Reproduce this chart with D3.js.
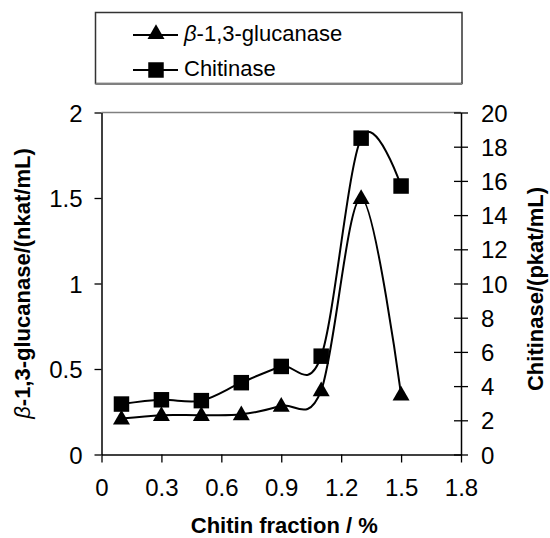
<!DOCTYPE html>
<html>
<head>
<meta charset="utf-8">
<script src="https://cdn.jsdelivr.net/npm/d3@7"></script>
<style>
  body { margin: 0; background: #fff; }
  svg { display: block; font-family: "Liberation Sans", Arial, sans-serif; }
</style>
</head>
<body>
<div id="chart"></div>
<script>
// data
var fraction = [0.1, 0.3, 0.5, 0.7, 0.9, 1.1, 1.3, 1.5];
var glucanase = [0.21, 0.23, 0.23, 0.235, 0.285, 0.375, 1.5, 0.35];   // nkat/mL, left axis
var chitinase = [2.95, 3.2, 3.15, 4.2, 5.15, 5.75, 18.5, 15.7];       // pkat/mL, right axis
var xTicks = [0, 0.3, 0.6, 0.9, 1.2, 1.5, 1.8];
var leftTicks = [0, 0.5, 1, 1.5, 2];
var rightTicks = [0, 2, 4, 6, 8, 10, 12, 14, 16, 18, 20];
var seriesNames = ["-1,3-glucanase", "Chitinase"];

var W = 550, H = 538;
var plotL = 101.5, plotR = 461, plotT = 112.5, plotB = 454.5;

var svg = d3.select("#chart").append("svg")
    .attr("width", W)
    .attr("height", H);

var x = d3.scaleLinear().domain([0, 1.8]).range([plotL, plotR]);
var yL = d3.scaleLinear().domain([0, 2]).range([plotB, plotT]);
var yR = d3.scaleLinear().domain([0, 20]).range([plotB, plotT]);

// gray top border of plot area
svg.append("line")
    .attr("x1", plotL).attr("x2", plotR)
    .attr("y1", plotT).attr("y2", plotT)
    .attr("stroke", "#808080").attr("stroke-width", 1.5);

// axes
var gx = svg.append("g")
    .attr("transform", "translate(0," + plotB + ")")
    .call(d3.axisBottom(x).tickValues(xTicks).tickFormat(function(d){ return String(d); })
        .tickSizeInner(8).tickSizeOuter(0).tickPadding(16));

var gl = svg.append("g")
    .attr("transform", "translate(" + plotL + ",0)")
    .call(d3.axisLeft(yL).tickValues(leftTicks).tickFormat(function(d){ return String(d); })
        .tickSizeInner(7).tickSizeOuter(0).tickPadding(12));

var gr = svg.append("g")
    .attr("transform", "translate(" + plotR + ",0)")
    .call(d3.axisRight(yR).tickValues(rightTicks).tickFormat(function(d){ return String(d); })
        .tickSizeInner(7).tickSizeOuter(0).tickPadding(13));
gr.selectAll(".tick line").attr("x1", -7);

[gx, gl, gr].forEach(function(g){
  g.select(".domain").attr("stroke", "#000").attr("stroke-width", 1.5);
  g.selectAll(".tick line").attr("stroke", "#000").attr("stroke-width", 1.3);
  g.selectAll(".tick text")
    .attr("fill", "#000")
    .style("font-size", "24px")
    .style("font-family", "'Liberation Sans', Arial, sans-serif");
});
gl.selectAll(".tick text").attr("dy", "0.36em");
gr.selectAll(".tick text").attr("dy", "0.36em");

// curves
var lineL = d3.line()
    .x(function(d, i){ return x(fraction[i]); })
    .y(function(d){ return yL(d); })
    .curve(d3.curveCardinal.tension(0));
var lineR = d3.line()
    .x(function(d, i){ return x(fraction[i]); })
    .y(function(d){ return yR(d); })
    .curve(d3.curveCardinal.tension(0));

svg.append("path")
    .attr("d", lineL(glucanase))
    .attr("fill", "none").attr("stroke", "#000").attr("stroke-width", 2);
svg.append("path")
    .attr("d", lineR(chitinase))
    .attr("fill", "none").attr("stroke", "#000").attr("stroke-width", 2);

var tri = d3.symbol().type(d3.symbolTriangle).size(125);
var sq = d3.symbol().type(d3.symbolSquare).size(240);

svg.selectAll(".tri")
    .data(glucanase)
    .enter().append("path")
    .attr("class", "tri")
    .attr("d", tri)
    .attr("transform", function(d, i){ return "translate(" + x(fraction[i]) + "," + (yL(d) + 1) + ")"; })
    .attr("fill", "#000");

svg.selectAll(".sq")
    .data(chitinase)
    .enter().append("path")
    .attr("class", "sq")
    .attr("d", sq)
    .attr("transform", function(d, i){ return "translate(" + x(fraction[i]) + "," + yR(d) + ")"; })
    .attr("fill", "#000");

// axis titles
var lt = svg.append("text")
    .attr("transform", "translate(24," + ((plotT + plotB) / 2) + ") rotate(-90)")
    .attr("text-anchor", "middle")
    .attr("dominant-baseline", "middle")
    .style("font-size", "22px")
    .style("font-weight", "bold");
lt.append("tspan").style("font-style", "italic").style("font-weight", "normal").text("\u03b2");
lt.append("tspan").text("-1,3-glucanase/(nkat/mL)");

svg.append("text")
    .attr("transform", "translate(537," + 289 + ") rotate(-90)")
    .attr("text-anchor", "middle")
    .attr("dominant-baseline", "middle")
    .style("font-size", "22px")
    .style("font-weight", "bold")
    .text("Chitinase/(pkat/mL)");

svg.append("text")
    .attr("x", (plotL + plotR) / 2 + 3)
    .attr("y", 533)
    .attr("text-anchor", "middle")
    .style("font-size", "22px")
    .style("font-weight", "bold")
    .text("Chitin fraction / %");

// legend
var lg = svg.append("g");
lg.append("rect")
    .attr("x", 95.5).attr("y", 12.5)
    .attr("width", 366.5).attr("height", 71)
    .attr("fill", "#fff")
    .attr("stroke", "#333").attr("stroke-width", 1.5);
lg.append("line")
    .attr("x1", 95.5).attr("x2", 462)
    .attr("y1", 84).attr("y2", 84)
    .attr("stroke", "#808080").attr("stroke-width", 2);

var rowsY = [35, 70];
[0, 1].forEach(function(k){
  var yy = rowsY[k];
  lg.append("line")
      .attr("x1", 133).attr("x2", 178)
      .attr("y1", yy).attr("y2", yy)
      .attr("stroke", "#000").attr("stroke-width", 2);
  lg.append("path")
      .attr("d", k === 0 ? tri : sq)
      .attr("transform", "translate(156," + (k === 0 ? yy - 1 : yy) + ")")
      .attr("fill", "#000");
  var t = lg.append("text")
      .attr("x", 184).attr("y", yy)
      .attr("dominant-baseline", "middle")
      .style("font-size", "22px");
  if (k === 0) {
    t.append("tspan").style("font-style", "italic").text("\u03b2");
    t.append("tspan").text(seriesNames[0]);
  } else {
    t.text(seriesNames[1]);
  }
});
</script>
</body>
</html>
